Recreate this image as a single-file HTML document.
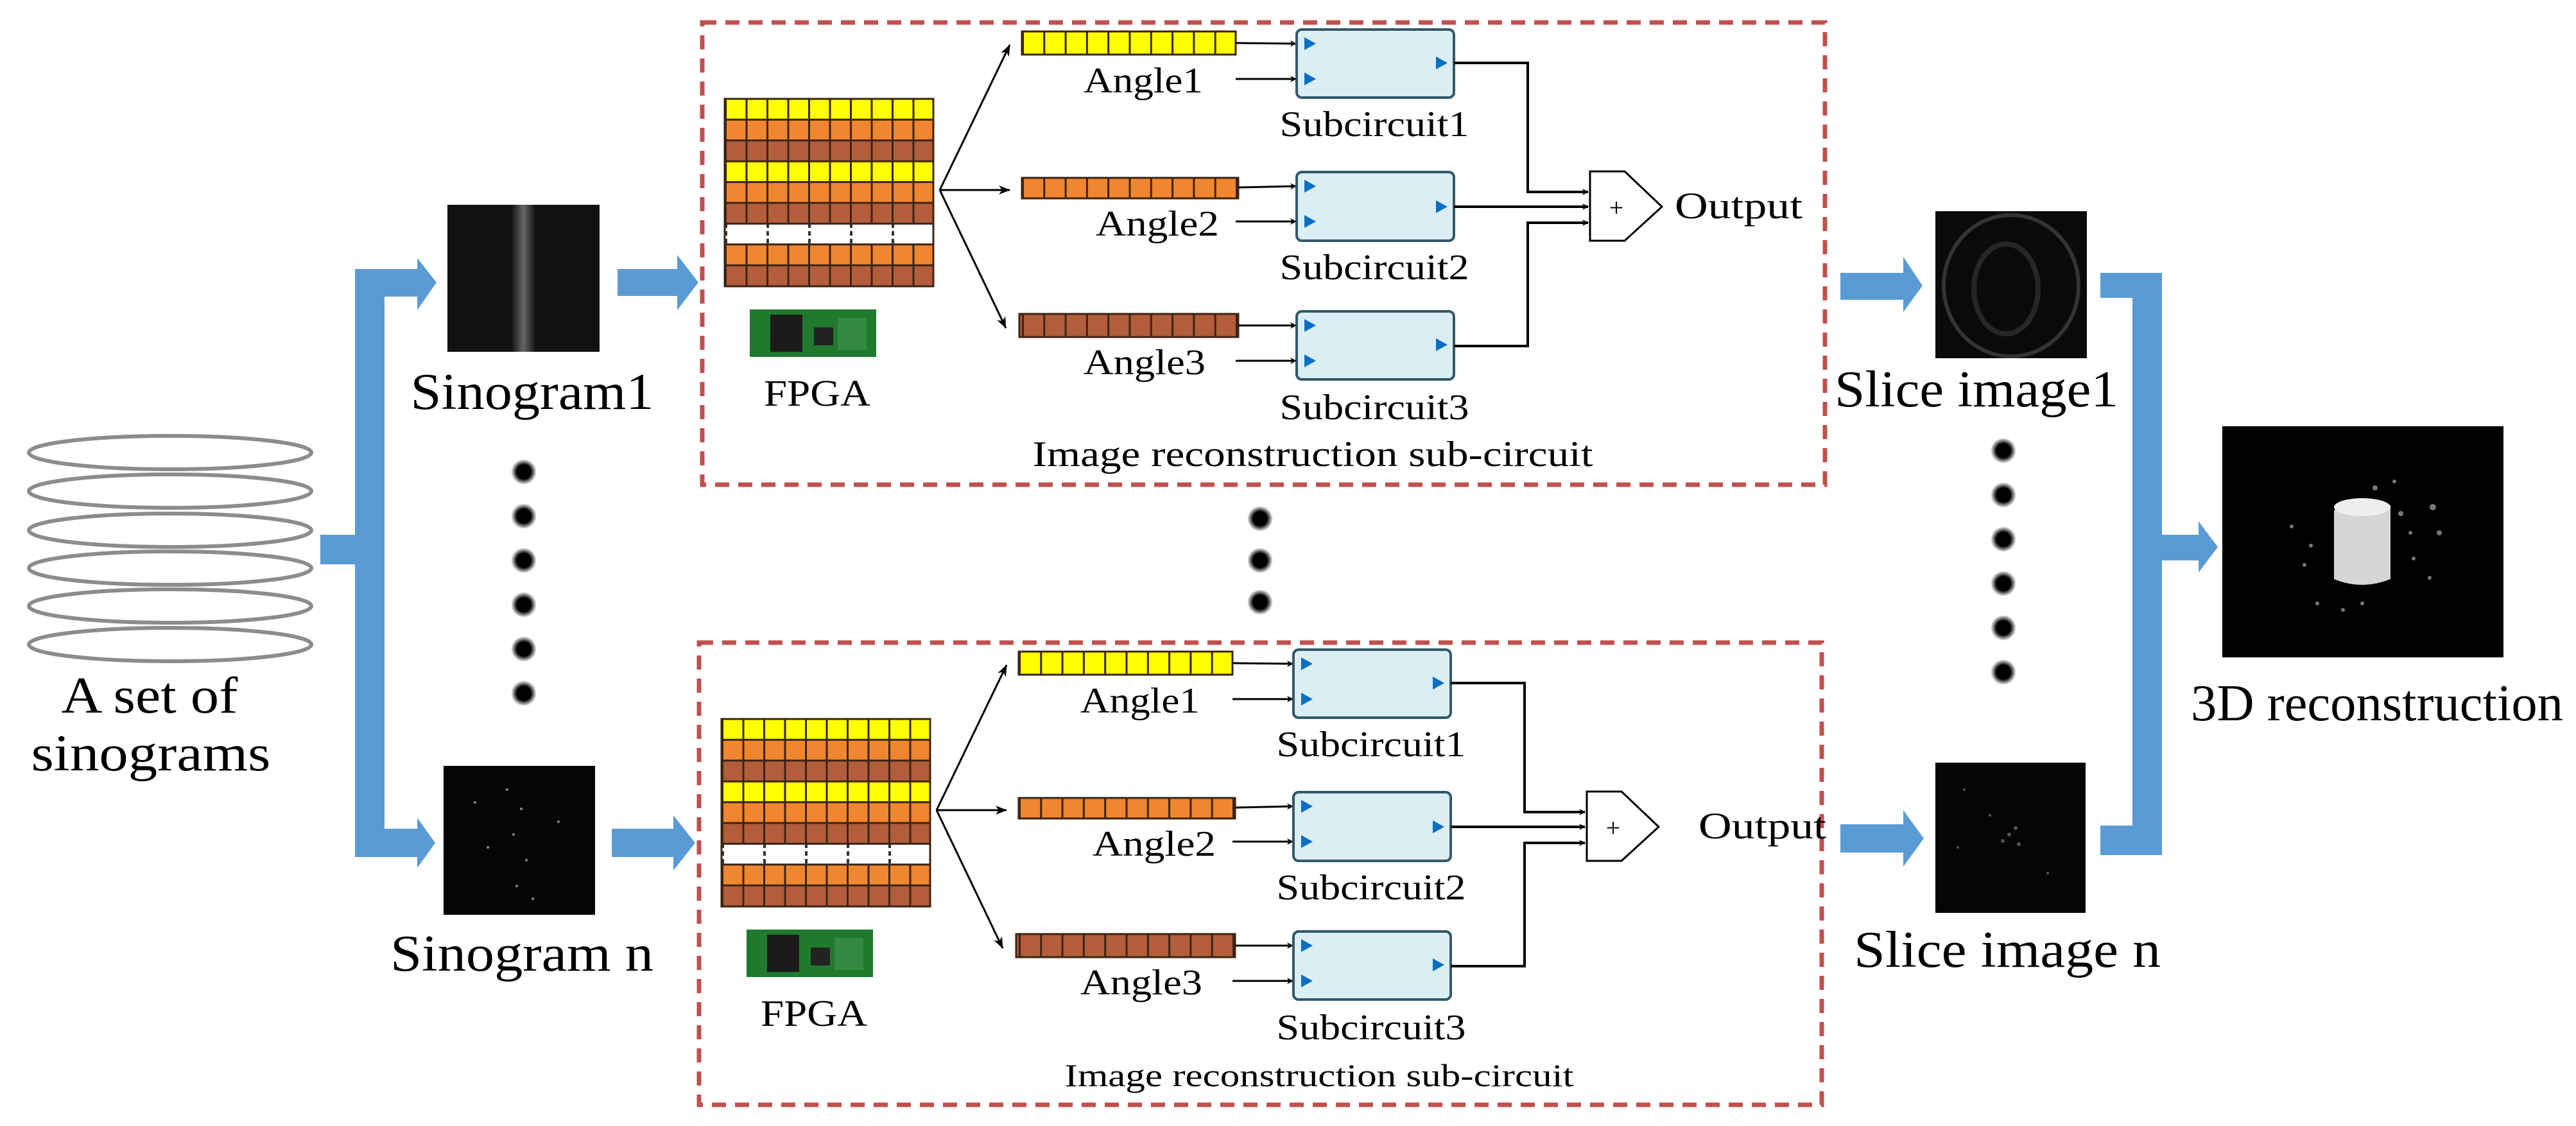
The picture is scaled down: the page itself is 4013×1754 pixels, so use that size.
<!DOCTYPE html>
<html><head><meta charset="utf-8"><style>html,body{margin:0;padding:0;background:#fff}svg{display:block}</style></head><body>
<svg width="4013" height="1754" viewBox="0 0 4013 1754" xmlns="http://www.w3.org/2000/svg" font-family="'Liberation Serif', serif">
<defs>
<marker id="ah" markerWidth="10" markerHeight="10" refX="9" refY="5" orient="auto" markerUnits="userSpaceOnUse"><path d="M0,0 L10,5 L0,10 L3,5 Z" fill="#000"/></marker>
<marker id="ah2" markerWidth="18" markerHeight="14" refX="17" refY="7" orient="auto" markerUnits="userSpaceOnUse"><path d="M0,0 L18,7 L0,14 L5,7 Z" fill="#000"/></marker>
<pattern id="gv" x="1129" y="0" width="32.5" height="2000" patternUnits="userSpaceOnUse"><rect x="0" y="0" width="3" height="2000" fill="#3b2414"/></pattern>
<pattern id="gw" x="1129" y="0" width="65" height="12" patternUnits="userSpaceOnUse"><rect x="0" y="0" width="4" height="7" fill="#333"/></pattern>
<pattern id="bv" x="1592" y="0" width="33.3" height="2000" patternUnits="userSpaceOnUse"><rect x="0" y="0" width="3" height="2000" fill="#3b2414"/></pattern>
<radialGradient id="dot"><stop offset="0.55" stop-color="#000"/><stop offset="1" stop-color="#000" stop-opacity="0"/></radialGradient>
<linearGradient id="sline" x1="0" x2="1"><stop offset="0" stop-color="#111"/><stop offset="0.42" stop-color="#111"/><stop offset="0.5" stop-color="#666"/><stop offset="0.58" stop-color="#111"/><stop offset="1" stop-color="#111"/></linearGradient>
<g id="circ">
 <rect x="1094" y="35" width="1749" height="720" fill="none" stroke="#c0504d" stroke-width="7" stroke-dasharray="22 14"/>
 <rect x="1129" y="154" width="325" height="32.4" fill="#ffff00"/>
 <rect x="1129" y="186.4" width="325" height="32.4" fill="#f0862f"/>
 <rect x="1129" y="218.8" width="325" height="32.4" fill="#b35d3a"/>
 <rect x="1129" y="251.2" width="325" height="32.4" fill="#ffff00"/>
 <rect x="1129" y="283.6" width="325" height="32.4" fill="#f0862f"/>
 <rect x="1129" y="316" width="325" height="32.4" fill="#b35d3a"/>
 <rect x="1129" y="348.4" width="325" height="32.4" fill="#fff" stroke="#555" stroke-width="2"/>
 <rect x="1129" y="348.4" width="325" height="32.4" fill="url(#gw)"/>
 <rect x="1129" y="380.8" width="325" height="32.4" fill="#f0862f"/>
 <rect x="1129" y="413.2" width="325" height="32.8" fill="#b35d3a"/>
 <rect x="1129" y="154" width="325" height="194.4" fill="url(#gv)"/>
 <rect x="1129" y="380.8" width="325" height="65.2" fill="url(#gv)"/>
 <g stroke="#3b2414" stroke-width="3" fill="none">
  <path d="M1129,186.4H1454M1129,218.8H1454M1129,251.2H1454M1129,283.6H1454M1129,316H1454M1129,348.4H1454M1129,380.8H1454M1129,413.2H1454"/>
  <rect x="1129" y="154" width="325" height="292"/>
 </g>
 <rect x="1168" y="482" width="197" height="74" fill="#1f7a2e"/>
 <rect x="1200" y="490" width="50" height="58" fill="#1a1a1a"/>
 <rect x="1268" y="510" width="30" height="28" fill="#222"/>
 <rect x="1305" y="495" width="45" height="50" fill="#3d8f4a" opacity="0.7"/>
 <text x="1273" y="632" font-size="58" text-anchor="middle" textLength="166" lengthAdjust="spacingAndGlyphs">FPGA</text>
 <g stroke="#000" stroke-width="3" fill="none">
  <line x1="1464" y1="296" x2="1573" y2="70" marker-end="url(#ah2)"/>
  <line x1="1464" y1="296" x2="1573" y2="296" marker-end="url(#ah2)"/>
  <line x1="1464" y1="296" x2="1567" y2="511" marker-end="url(#ah2)"/>
 </g>
 <rect x="1592" y="49" width="333" height="36" fill="#ffff00"/>
 <rect x="1592" y="49" width="333" height="36" fill="url(#bv)" stroke="#3b2414" stroke-width="3"/>
 <rect x="1592" y="277" width="337" height="32" fill="#f0862f"/>
 <rect x="1592" y="277" width="337" height="32" fill="url(#bv)" stroke="#3b2414" stroke-width="3"/>
 <rect x="1588" y="489" width="341" height="36" fill="#b35d3a"/>
 <rect x="1588" y="489" width="341" height="36" fill="url(#bv)" stroke="#3b2414" stroke-width="3"/>
 <g font-size="56">
  <text x="1688" y="144" textLength="186" lengthAdjust="spacingAndGlyphs">Angle1</text>
  <text x="1707" y="367" textLength="192" lengthAdjust="spacingAndGlyphs">Angle2</text>
  <text x="1688" y="583" textLength="190" lengthAdjust="spacingAndGlyphs">Angle3</text>
 </g>
 <g stroke="#000" stroke-width="3" fill="none">
  <line x1="1925" y1="67" x2="2019" y2="68" marker-end="url(#ah)"/>
  <line x1="1925" y1="123" x2="2019" y2="123" marker-end="url(#ah)"/>
  <line x1="1929" y1="292" x2="2019" y2="290" marker-end="url(#ah)"/>
  <line x1="1925" y1="345" x2="2019" y2="345" marker-end="url(#ah)"/>
  <line x1="1929" y1="507" x2="2019" y2="507" marker-end="url(#ah)"/>
  <line x1="1925" y1="562" x2="2019" y2="562" marker-end="url(#ah)"/>
 </g>
 <g fill="#daeef3" stroke="#31596a" stroke-width="4">
  <rect x="2020" y="46" width="245" height="106" rx="8"/>
  <rect x="2020" y="268" width="245" height="107" rx="8"/>
  <rect x="2020" y="485" width="245" height="106" rx="8"/>
 </g>
 <g fill="#0a6fc2">
  <path d="M2032,58 l18,10 l-18,10Z M2032,113 l18,10 l-18,10Z M2237,88 l18,10 l-18,10Z"/>
  <path d="M2032,280 l18,10 l-18,10Z M2032,335 l18,10 l-18,10Z M2237,312 l18,10 l-18,10Z"/>
  <path d="M2032,497 l18,10 l-18,10Z M2032,552 l18,10 l-18,10Z M2237,527 l18,10 l-18,10Z"/>
 </g>
 <g font-size="56" text-anchor="middle">
  <text x="2141" y="212" textLength="295" lengthAdjust="spacingAndGlyphs">Subcircuit1</text>
  <text x="2141" y="435" textLength="295" lengthAdjust="spacingAndGlyphs">Subcircuit2</text>
  <text x="2141" y="653" textLength="295" lengthAdjust="spacingAndGlyphs">Subcircuit3</text>
 </g>
 <g stroke="#000" stroke-width="4" fill="none">
  <path d="M2265,98 H2380 V299 H2474" marker-end="url(#ah)"/>
  <path d="M2265,322 H2474" marker-end="url(#ah)"/>
  <path d="M2265,539 H2380 V347 H2474" marker-end="url(#ah)"/>
 </g>
 <path d="M2477,267 H2531 L2589,322 L2531,375 H2477 Z" fill="#fff" stroke="#000" stroke-width="3"/>
 <text x="2518" y="337" font-size="40" text-anchor="middle">+</text>
</g>
</defs>

<g fill="none" stroke="#8c8c8c" stroke-width="6">
 <ellipse cx="265" cy="705" rx="220" ry="26"/>
 <ellipse cx="265" cy="765" rx="220" ry="26"/>
 <ellipse cx="265" cy="826" rx="220" ry="26"/>
 <ellipse cx="265" cy="885" rx="220" ry="26"/>
 <ellipse cx="265" cy="944" rx="220" ry="26"/>
 <ellipse cx="265" cy="1004" rx="220" ry="26"/>
</g>
<text x="233" y="1110" font-size="80" text-anchor="middle" textLength="275" lengthAdjust="spacingAndGlyphs">A set of</text>
<text x="235" y="1200" font-size="80" text-anchor="middle" textLength="373" lengthAdjust="spacingAndGlyphs">sinograms</text>

<g fill="#5b9bd5">
 <rect x="499" y="833" width="100" height="46"/>
 <rect x="553" y="419" width="46" height="916"/>
 <rect x="553" y="419" width="100" height="43"/>
 <path d="M650,402 L680,440 L650,483Z"/>
 <rect x="553" y="1291" width="100" height="44"/>
 <path d="M650,1274 L678,1313 L650,1352Z"/>
 <rect x="962" y="419" width="95" height="42"/>
 <path d="M1055,397 L1088,440 L1055,483Z"/>
 <rect x="953" y="1291" width="98" height="44"/>
 <path d="M1049,1270 L1083,1313 L1049,1356Z"/>
</g>

<rect x="697" y="319" width="237" height="229" fill="url(#sline)"/>
<rect x="691" y="1193" width="236" height="232" fill="#050505"/>
<g fill="#888">
 <circle cx="790" cy="1230" r="2"/><circle cx="812" cy="1260" r="2"/><circle cx="800" cy="1300" r="2"/><circle cx="820" cy="1340" r="2"/><circle cx="805" cy="1380" r="2"/><circle cx="760" cy="1320" r="2"/><circle cx="870" cy="1280" r="2"/><circle cx="830" cy="1400" r="2"/><circle cx="740" cy="1250" r="2"/>
</g>
<text x="829" y="637" font-size="80" text-anchor="middle" textLength="379" lengthAdjust="spacingAndGlyphs">Sinogram1</text>
<text x="813" y="1512" font-size="80" text-anchor="middle" textLength="410" lengthAdjust="spacingAndGlyphs">Sinogram n</text>

<g fill="url(#dot)">
 <ellipse cx="816" cy="735" rx="20" ry="20"/><ellipse cx="816" cy="804" rx="20" ry="20"/><ellipse cx="816" cy="873" rx="20" ry="20"/><ellipse cx="816" cy="942" rx="20" ry="20"/><ellipse cx="816" cy="1011" rx="20" ry="20"/><ellipse cx="816" cy="1080" rx="20" ry="20"/>
 <ellipse cx="1963" cy="808" rx="20" ry="20"/><ellipse cx="1963" cy="873" rx="20" ry="20"/><ellipse cx="1963" cy="938" rx="20" ry="20"/>
 <ellipse cx="3121" cy="702" rx="20" ry="20"/><ellipse cx="3121" cy="771" rx="20" ry="20"/><ellipse cx="3121" cy="840" rx="20" ry="20"/><ellipse cx="3121" cy="909" rx="20" ry="20"/><ellipse cx="3121" cy="978" rx="20" ry="20"/><ellipse cx="3121" cy="1047" rx="20" ry="20"/>
</g>

<use href="#circ"/>
<text x="2808" y="340" font-size="58" text-anchor="end" textLength="199" lengthAdjust="spacingAndGlyphs">Output</text>
<text x="2045" y="726" font-size="56" text-anchor="middle" textLength="873" lengthAdjust="spacingAndGlyphs">Image reconstruction sub-circuit</text>
<g transform="translate(-5,966)"><use href="#circ"/></g>
<text x="2845" y="1306" font-size="58" text-anchor="end" textLength="199" lengthAdjust="spacingAndGlyphs">Output</text>
<text x="2055" y="1692" font-size="50" text-anchor="middle" textLength="793" lengthAdjust="spacingAndGlyphs">Image reconstruction sub-circuit</text>

<g fill="#5b9bd5">
 <rect x="2867" y="425" width="100" height="42"/>
 <path d="M2965,400 L2995,445 L2965,486Z"/>
 <rect x="2867" y="1284" width="100" height="44"/>
 <path d="M2965,1262 L2997,1306 L2965,1350Z"/>
 <rect x="3272" y="425" width="96" height="39"/>
 <rect x="3322" y="425" width="46" height="907"/>
 <rect x="3272" y="1286" width="96" height="46"/>
 <rect x="3368" y="833" width="60" height="40"/>
 <path d="M3425,812 L3455,852 L3425,892Z"/>
</g>
<rect x="3015" y="329" width="236" height="229" fill="#0a0a0a"/>
<ellipse cx="3133" cy="445" rx="105" ry="110" fill="none" stroke="#333" stroke-width="6"/>
<ellipse cx="3125" cy="450" rx="50" ry="70" fill="none" stroke="#262626" stroke-width="8"/>
<rect x="3015" y="1188" width="234" height="234" fill="#050505"/>
<g fill="#555">
 <circle cx="3130" cy="1300" r="3"/><circle cx="3140" cy="1290" r="3"/><circle cx="3120" cy="1310" r="3"/><circle cx="3145" cy="1315" r="3"/><circle cx="3060" cy="1230" r="2"/><circle cx="3190" cy="1360" r="2"/><circle cx="3100" cy="1270" r="2"/><circle cx="3050" cy="1320" r="2"/>
</g>
<text x="3079" y="633" font-size="80" text-anchor="middle" textLength="442" lengthAdjust="spacingAndGlyphs">Slice image1</text>
<text x="3127" y="1506" font-size="80" text-anchor="middle" textLength="478" lengthAdjust="spacingAndGlyphs">Slice image n</text>
<rect x="3462" y="664" width="438" height="360" fill="#000"/>
<path d="M3636,795 q45,-30 88,-8 v115 q-44,18 -88,0 Z" fill="#d6d6d6"/>
<ellipse cx="3680" cy="790" rx="44" ry="14" fill="#eee"/>
<g fill="#777">
 <circle cx="3740" cy="800" r="4"/><circle cx="3755" cy="830" r="3"/><circle cx="3760" cy="870" r="3"/><circle cx="3600" cy="850" r="3"/><circle cx="3590" cy="880" r="3"/><circle cx="3610" cy="940" r="3"/><circle cx="3650" cy="950" r="3"/><circle cx="3700" cy="760" r="4"/><circle cx="3730" cy="750" r="3"/><circle cx="3790" cy="790" r="5"/><circle cx="3800" cy="830" r="4"/><circle cx="3785" cy="900" r="3"/><circle cx="3570" cy="820" r="3"/><circle cx="3680" cy="940" r="3"/>
</g>
<text x="3703" y="1122" font-size="80" text-anchor="middle" textLength="580" lengthAdjust="spacingAndGlyphs">3D reconstruction</text>
</svg>
</body></html>
